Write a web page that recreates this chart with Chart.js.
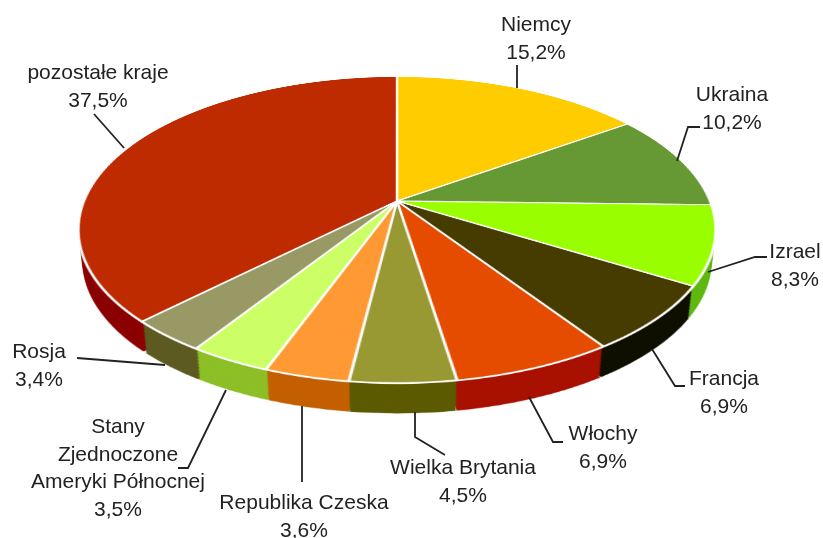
<!DOCTYPE html>
<html>
<head>
<meta charset="utf-8">
<title>Struktura</title>
<script src="https://cdn.jsdelivr.net/npm/chart.js@4"></script>
<style>
    html, body { margin: 0; padding: 0; background: #fff; overflow: hidden; width: 823px; height: 538px; }
    #stage { position: absolute; left: 0; top: 0; width: 823px; height: 538px; overflow: hidden; }
    #stage canvas { position: absolute; left: 75px; top: -121.5px; transform-origin: 50% 50%; }
    #leaders { position: absolute; left: 0; top: 0; }
    .lbl { position: absolute; transform: translateX(-50%); text-align: center; white-space: pre;
           font: 21px/27.5px "Liberation Sans", Arial, sans-serif; color: #222; }
</style>
</head>
<body>
<div id="stage"></div>
<script>
// dane
var categories = ['Niemcy', 'Ukraina', 'Izrael', 'Francja', 'Włochy', 'Wielka Brytania',
    'Republika Czeska', 'Stany\nZjednoczone\nAmeryki Północnej', 'Rosja', 'pozostałe kraje'];
var shares = [15.2, 10.2, 8.3, 6.9, 6.9, 4.5, 3.6, 3.5, 3.4, 37.5];
var topColors = ['#ffcc00', '#669933', '#99ff00', '#463c00', '#e64c00', '#999933',
    '#ff9933', '#ccff66', '#999966', '#bf2b00'];
var sideColors = ['#b38f00', '#476b24', '#5fb80f', '#0f0f00', '#a81000', '#5c5a00',
    '#c45f00', '#8cbf26', '#5c5a20', '#8b0000'];

// układ: środek podpisu i pierwsza linia, potem linia odniesienia
var labelX = [536, 732, 795, 724, 603, 463, 304, 118, 39, 98];
var labelY = [24, 94, 251, 378, 433, 467, 502, 426, 351, 72];
var leaderPaths = [
    '517,88 517,65',
    '677,161 688,127 700,127',
    '708,272 755,257 767,257',
    '652,349 675,386 685,386',
    '529,397 553,442 563,442',
    '415,412 415,437 445,455',
    '302,406 302,482',
    '226,390 188,468 178,468',
    '165,365 77,358',
    '124,148 94,114'
];

var SIZE = 644, RADIUS = 313, SIDE_RADIUS = 311;
var TILT = 'perspective(1468px) rotateX(61.8deg)';
var DEPTH = 33, STEP = 1.5, SHRINK = 0.012;

var stage = document.getElementById('stage');

function addCanvas() {
    var c = document.createElement('canvas');
    c.width = SIZE;
    c.height = SIZE;
    stage.appendChild(c);
    return c;
}

function pie(canvas, colors, borderWidth, spacing, radius, ratio) {
    return new Chart(canvas.getContext('2d'), {
        type: 'pie',
        data: {
            labels: categories,
            datasets: [{
                data: shares,
                backgroundColor: colors,
                borderColor: '#fff',
                borderWidth: borderWidth,
                spacing: spacing,
                radius: radius
            }]
        },
        options: {
            responsive: false,
            animation: false,
            devicePixelRatio: ratio,
            plugins: { legend: { display: false }, tooltip: { enabled: false } }
        }
    });
}

function placeLayer(canvas, dy) {
    var k = 1 - SHRINK * dy / DEPTH;
    canvas.style.transform = 'translateY(' + dy + 'px) scale(' + k + ') ' + TILT;
}

// boczna ściana: ten sam wykres powielony warstwami w dół
var sideCanvas = addCanvas();
var sideChart = pie(sideCanvas, sideColors, 0, 2.5, SIDE_RADIUS, 1.5);
sideChart.draw();
placeLayer(sideCanvas, DEPTH);
for (var dy = DEPTH - STEP; dy > 0; dy -= STEP) {
    var copy = document.createElement('canvas');
    copy.width = sideCanvas.width;
    copy.height = sideCanvas.height;
    copy.style.width = SIZE + 'px';
    copy.style.height = SIZE + 'px';
    copy.getContext('2d').drawImage(sideCanvas, 0, 0);
    stage.appendChild(copy);
    placeLayer(copy, dy);
}

// wierzch tortu
var topCanvas = addCanvas();
pie(topCanvas, topColors, 2.5, 0, RADIUS, 2);
topCanvas.style.transform = TILT;

// linie odniesienia
var svgNS = 'http://www.w3.org/2000/svg';
var svg = document.createElementNS(svgNS, 'svg');
svg.setAttribute('id', 'leaders');
svg.setAttribute('width', 823);
svg.setAttribute('height', 538);
leaderPaths.forEach(function (points) {
    var line = document.createElementNS(svgNS, 'polyline');
    line.setAttribute('points', points);
    line.setAttribute('fill', 'none');
    line.setAttribute('stroke', '#222');
    line.setAttribute('stroke-width', '1.8');
    svg.appendChild(line);
});
stage.appendChild(svg);

// podpisy
categories.forEach(function (name, i) {
    var div = document.createElement('div');
    div.className = 'lbl';
    div.style.left = labelX[i] + 'px';
    div.style.top = (labelY[i] - 14) + 'px';
    div.textContent = name + '\n' + String(shares[i]).replace('.', ',') + '%';
    stage.appendChild(div);
});
</script>
</body>
</html>
